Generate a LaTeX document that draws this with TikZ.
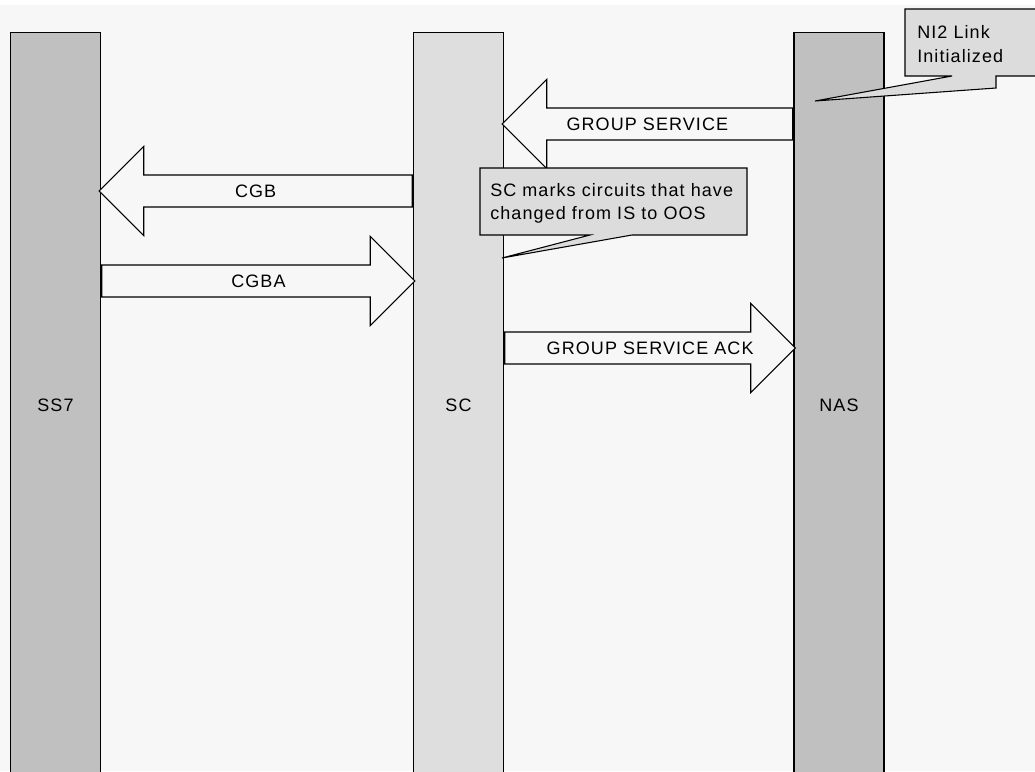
\documentclass[tikz,border=0pt]{standalone}
\usepackage{fontspec}
\setmainfont{Liberation Sans}[LetterSpace=6]
\usetikzlibrary{shapes.arrows,calc}
\definecolor{paper}{RGB}{247,247,247}
\definecolor{darklane}{RGB}{192,192,192}
\definecolor{lightlane}{RGB}{222,222,222}
\definecolor{notegray}{RGB}{220,220,220}

\begin{document}
\begin{tikzpicture}[
        x=0.75pt, y=-0.75pt,
        every node/.style={font=\fontsize{13.5}{17.5}\selectfont},
        lane/.style={draw, line width=1.1pt, anchor=north,
            minimum width=67.5pt, minimum height=559.5pt},
        msg/.style={single arrow, draw, fill=paper, line width=0.8pt,
            single arrow head extend=21.4pt, inner ysep=0pt,
            text height=16.3pt, text depth=6.9pt, anchor=tail},
        msgleft/.style={msg, shape border rotate=180},
        note/.style={draw, fill=notegray, line width=0.8pt},
        notetext/.style={anchor=west, align=left, inner sep=0pt}
    ]
    \clip (0,0) rectangle (1035,771);
    \fill[paper] (0,5) rectangle (1035,771);

    % the three lanes
    \node[lane, fill=darklane] (ss7) at (55.5,32) {SS7};
    \node[lane, fill=lightlane] (sc) at (458.5,32) {SC};
    \node[lane, fill=darklane] (nas) at (839,32) {NAS};

    % messages
    \node[msgleft, minimum height=217.9pt] (gs) at (nas.west |- 0,124) {};
    \node[msgleft, minimum height=234.75pt] (cgb) at (sc.west |- 0,191) {};
    \node[msg, minimum height=234.75pt] (cgba) at (ss7.east |- 0,281) {};
    \node[msg, minimum height=217.9pt] (gsack) at (sc.east |- 0,348) {};
    \node (gslabel) at ($(gs.tail)!.5!(gs.tip)$) {GROUP SERVICE};
    \node (cgblabel) at ($(cgb.tail)!.5!(cgb.tip)$) {CGB};
    \node (cgbalabel) at ($(cgba.tail)!.5!(cgba.tip)$) {CGBA};
    \node (gsacklabel) at ($(gsack.tail)!.5!(gsack.tip)$) {GROUP SERVICE ACK};

    % notes
    \draw[note] (905,9) -- (1040,9) -- (1040,76) -- (996,76) -- (996,88)
        -- (815,101) -- (952,76) -- (905,76) -- cycle;
    \node[notetext] (ni2) at (917,44) {NI2 Link\\Initialized};
    \draw[note] (480,168) -- (747,168) -- (747,235) -- (632,235)
        -- (502,258) -- (590,235) -- (480,235) -- cycle;
    \node[notetext] (marks) at (490,203.5) {SC marks circuits that have\\changed from IS to OOS};
\end{tikzpicture}
\end{document}
